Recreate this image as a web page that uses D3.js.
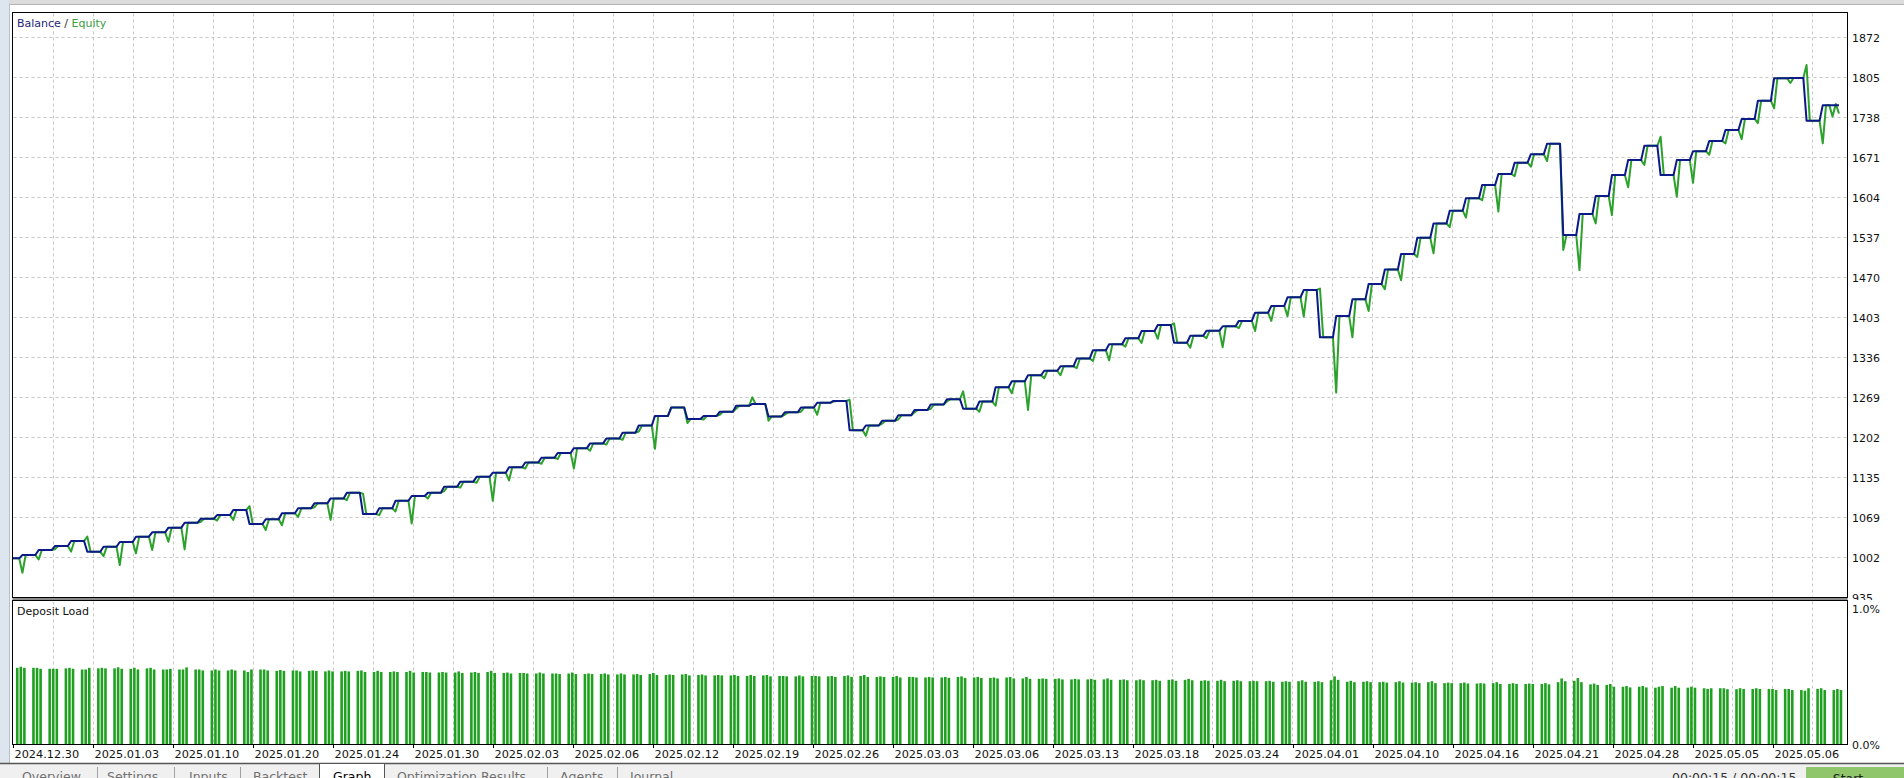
<!DOCTYPE html>
<html><head><meta charset="utf-8">
<script src="https://cdn.jsdelivr.net/npm/d3@7"></script>
<style>
html,body{margin:0;padding:0;background:#fff;overflow:hidden;}
svg{display:block;font-family:"DejaVu Sans",sans-serif;}
</style></head><body>
<svg id="c" width="1904" height="778"></svg>
<script>
// ---------------- data ----------------
const yTicks = [935,1002,1069,1135,1202,1269,1336,1403,1470,1537,1604,1671,1738,1805,1872];
const loadTickLabels = ["1.0%","0.0%"];
const loadTickValues = [1.0, 0.0];
const dateLabels = ["2024.12.30","2025.01.03","2025.01.10","2025.01.20","2025.01.24","2025.01.30","2025.02.03","2025.02.06","2025.02.12","2025.02.19","2025.02.26","2025.03.03","2025.03.06","2025.03.13","2025.03.18","2025.03.24","2025.04.01","2025.04.10","2025.04.16","2025.04.21","2025.04.28","2025.05.05","2025.05.06"];
const dateTickSlots = [0.1,24.75,49.4,74.06,98.7,123.4,148.0,172.7,197.3,222.0,246.7,271.3,296.0,320.6,345.3,369.9,394.6,419.3,443.9,468.6,493.2,517.9,542.6];

// balance level between consecutive closing steps (113 levels, 112 steps)
const balanceLevels = [999.7,1005.2,1013.6,1020.3,1028.7,1010.8,1019,1027,1035.9,1043.2,
1051,1059.3,1066,1072,1080.5,1057,1065,1075,1083.4,1091.7,
1100,1109.5,1073.8,1083.4,1096,1104,1109.5,1119.5,1128,1136,
1143,1152,1160,1168,1176,1184,1192,1200,1210,1222,
1238,1252,1233,1238,1245,1255,1258,1237,1244,1252,
1260,1263,1214,1222,1230,1239,1248,1257,1266,1250,
1262,1285.8,1296,1306,1313.6,1321,1334,1348,1358,1368,
1380,1390,1360.5,1372,1380.6,1388,1397,1410.7,1422,1436.5,
1448.7,1369.5,1405,1433,1458.7,1483,1509,1536,1560,1581.4,
1602,1624.3,1642.8,1661.7,1676,1693.5,1540.7,1575.8,1606,1641,
1666,1690,1641,1666,1681,1698,1716.4,1734.8,1765.5,1803,
1803.5,1732,1758];

// equity extreme (dip or spike) reached in each step
const equityExtremes = [975.6,998,1015,1011,1036,1003.5,988.5,1008,1013.6,1027.5,
1014.7,1061,1063,1064,1087,1047,1055,1069,1085,1064,
1097,1108,1072,1078,1058,1100,1112,1118,1126,1096,
1130,1150,1158,1166,1150,1180,1190,1198,1212,1183,
1252,1226,1232,1240,1250,1269,1230,1240,1245,1240,
1262,1265,1205,1225,1232,1244,1250,1262,1279,1245,
1255,1276,1248,1301,1306,1318,1330,1331,1354,1360,
1367,1393,1352,1368,1353,1385,1380,1397,1405,1404,
1451,1277,1369.5,1413.5,1450,1465,1504,1510,1554,1570,
1599,1580,1639,1655,1664.5,1515.6,1482,1560,1574,1620.5,
1658,1705,1605,1628,1675,1694,1701,1728,1752.7,1795,
1825,1694];

// equity after the last closing step (positions still open at end)
const equityTail = [1758,1739,1760,1744];

// deposit load in percent, three deals per step
const depositLoad = [
.552,.560,.552, .552,.552,.545, .545,.545,.545, .548,.552,.545, .540,.540,.552,
.548,.552,.548, .548,.556,.545, .545,.552,.540, .548,.552,.540, .540,.540,.545,
.540,.540,.555, .540,.540,.533, .533,.540,.533, .533,.540,.533, .533,.522,.540,
.540,.540,.533, .530,.536,.530, .533,.533,.526, .530,.533,.530, .526,.533,.526,
.526,.530,.526, .530,.533,.522, .522,.530,.522, .522,.526,.522, .522,.530,.518,
.522,.522,.518, .518,.522,.518, .518,.526,.515, .518,.522,.515, .522,.530,.515,
.515,.518,.511, .515,.515,.511, .511,.518,.511, .511,.511,.507, .511,.518,.507,
.507,.511,.507, .507,.511,.504, .504,.511,.504, .504,.507,.500, .507,.515,.500,
.500,.504,.500, .504,.507,.497, .500,.504,.497, .497,.500,.497, .497,.500,.493,
.493,.500,.493, .497,.500,.490, .493,.493,.490, .490,.497,.490, .493,.493,.490,
.490,.493,.486, .493,.497,.486, .493,.500,.486, .486,.490,.486, .486,.493,.482,
.486,.486,.482, .482,.486,.482, .482,.486,.479, .486,.490,.479, .482,.486,.479,
.479,.482,.475, .482,.486,.475, .475,.486,.472, .472,.475,.472, .472,.475,.468,
.468,.472,.468, .468,.472,.465, .468,.475,.465, .465,.468,.462, .462,.468,.462,
.462,.465,.458, .465,.468,.458, .465,.472,.462, .458,.462,.458, .458,.465,.455,
.458,.462,.455, .455,.458,.455, .455,.458,.451, .451,.455,.451, .455,.462,.451,
.451,.455,.448, .462,.490,.465, .451,.458,.448, .451,.455,.448, .448,.451,.445,
.448,.455,.445, .445,.448,.441, .448,.455,.441, .441,.445,.441, .441,.445,.438,
.438,.441,.438, .441,.448,.435, .435,.441,.435, .435,.438,.435, .435,.441,.432,
.448,.475,.455, .458,.478,.448, .432,.438,.428, .428,.435,.415, .415,.420,.410,
.415,.420,.410, .408,.415,.420, .408,.420,.408, .408,.415,.408, .404,.399,.404,
.404,.404,.397, .397,.404,.399, .399,.404,.399, .399,.399,.391, .399,.399,.391,
.391,.386,.404, .399,.404,.391, .391,.399,.391];

// ---------------- build series ----------------
const nSteps = balanceLevels.length - 1;
const pts = [];
for (let k = 0; k < nSteps; k++) {
  for (let p = 0; p < 5; p++) {
    const bal = p < 3 ? balanceLevels[k] : balanceLevels[k+1];
    const eq = p < 3 ? balanceLevels[k] : (p === 3 ? equityExtremes[k] : balanceLevels[k+1]);
    pts.push({i: k*5+p, bal, eq});
  }
}
equityTail.forEach((v, p) => pts.push({i: nSteps*5+p, bal: balanceLevels[nSteps], eq: v}));
// three deals per step, centred on the step
const bars = depositLoad.map((v, j) => ({i: Math.floor(j/3)*5 + 2.5 + ((j%3) - 1)*1.1, v}));
const lastSlot = pts[pts.length-1].i;

// ---------------- layout ----------------
const svg = d3.select("#c");
const L = 12.5, R = 1847.5, T1 = 12.5, B1 = 597.5, T2 = 600.5, B2 = 744.5;
const x = d3.scaleLinear().domain([0, lastSlot]).range([12.7, 1839]);
const y = d3.scaleLinear().domain([935, 1872]).range([597, 37]);
const yl = d3.scaleLinear().domain([0, 1]).range([744, 606]);

svg.append("rect").attr("width",1904).attr("height",778).attr("fill","#fff");
// top chrome
svg.append("rect").attr("x",0).attr("y",0).attr("width",1904).attr("height",4).attr("fill","#dcdcdc");
svg.append("line").attr("x1",0).attr("x2",1904).attr("y1",4.5).attr("y2",4.5).attr("stroke","#b4b4b4");
// left strip
svg.append("rect").attr("x",0).attr("y",0).attr("width",9).attr("height",764).attr("fill","#dde5ef");
svg.append("line").attr("x1",9.5).attr("x2",9.5).attr("y1",5).attr("y2",764).attr("stroke","#b8c2cf");
const clipL = svg.append("clipPath").attr("id","clipL");
clipL.append("rect").attr("x",0).attr("y",0).attr("width",9).attr("height",764);
svg.append("text").attr("clip-path","url(#clipL)")
  .attr("transform","translate(10,778) rotate(-90)")
  .attr("font-size",12).attr("fill","#3a4a5e").text("Strategy Tester");

// panels
svg.append("rect").attr("x",L).attr("y",T1).attr("width",R-L).attr("height",B1-T1)
  .attr("fill","#fff").attr("stroke","#000").attr("stroke-width",1);
svg.append("rect").attr("x",L).attr("y",T2).attr("width",R-L).attr("height",B2-T2)
  .attr("fill","#fff").attr("stroke","#000").attr("stroke-width",1);
svg.append("rect").attr("x",L).attr("y",598).attr("width",R-L).attr("height",2).attr("fill","#8a8a8a");

// grid
const g = svg.append("g");
const tx0 = x(dateTickSlots[0]), tstep = (x(dateTickSlots[1]) - x(dateTickSlots[0]))/2;
const gridX = d3.range(1, 46).map(j => Math.round(tx0 + j*tstep) + 0.5).filter(v => v < R-2);
gridX.forEach(gx => {
  g.append("line").attr("x1",gx).attr("x2",gx).attr("y1",T1+1).attr("y2",B1-1)
    .attr("stroke","#c6c6c6").attr("stroke-dasharray","3,3");
  g.append("line").attr("x1",gx).attr("x2",gx).attr("y1",T2+1).attr("y2",B2-1)
    .attr("stroke","#c6c6c6").attr("stroke-dasharray","3,3");
});
yTicks.slice(1).forEach(v => {
  const gy = Math.round(y(v)) + 0.5;
  g.append("line").attr("x1",L+1).attr("x2",R-1).attr("y1",gy).attr("y2",gy)
    .attr("stroke","#c6c6c6").attr("stroke-dasharray","3,3");
});

// deposit load bars
svg.append("g").selectAll("rect").data(bars).join("rect")
  .attr("x", d => x(d.i) - 1.3).attr("width", 2.6)
  .attr("y", d => yl(d.v)).attr("height", d => yl(0) - yl(d.v))
  .attr("fill", "#20a020");

// lines
const clipT = svg.append("clipPath").attr("id","clipT");
clipT.append("rect").attr("x",L+0.5).attr("y",T1+0.5).attr("width",R-L-1).attr("height",B1-T1-1);
const lg = svg.append("g").attr("clip-path","url(#clipT)");
lg.append("path").datum(pts)
  .attr("d", d3.line().x(d => x(d.i)).y(d => y(d.eq)))
  .attr("fill","none").attr("stroke","#2ca12c").attr("stroke-width",2).attr("stroke-linejoin","round");
lg.append("path").datum(pts)
  .attr("d", d3.line().x(d => x(d.i)).y(d => y(d.bal)))
  .attr("fill","none").attr("stroke","#0b1a86").attr("stroke-width",2).attr("stroke-linejoin","round");

// legends
const t1 = svg.append("text").attr("x",17).attr("y",27).attr("font-size",11);
t1.append("tspan").attr("fill","#1e1e78").text("Balance");
t1.append("tspan").attr("fill","#333").text(" / ");
t1.append("tspan").attr("fill","#3a9e3a").text("Equity");
svg.append("text").attr("x",17).attr("y",615).attr("font-size",11).attr("fill","#111").text("Deposit Load");

// y labels
const clipY = svg.append("clipPath").attr("id","clipY");
clipY.append("rect").attr("x",R).attr("y",0).attr("width",60).attr("height",600);
const ya = svg.append("g").attr("clip-path","url(#clipY)");
yTicks.forEach(v => {
  ya.append("text").attr("x",1852).attr("y",Math.round(y(v))+4.5).attr("font-size",11)
    .attr("fill","#111").text(v);
});
loadTickValues.forEach((v,i) => {
  svg.append("text").attr("x",1852).attr("y", v === 1 ? 613 : 749).attr("font-size",11)
    .attr("fill","#111").text(loadTickLabels[i]);
});

// x ticks and labels
dateTickSlots.forEach((s,i) => {
  const px = Math.round(x(s)) + 0.5;
  svg.append("line").attr("x1",px).attr("x2",px).attr("y1",B2).attr("y2",B2+3.5).attr("stroke","#000");
  svg.append("text").attr("x",px+1).attr("y",757.5).attr("font-size",11.3).attr("fill","#111").text(dateLabels[i]);
});

// bottom tab bar
svg.append("rect").attr("x",0).attr("y",764).attr("width",1904).attr("height",14).attr("fill","#f0f0f0");
svg.append("line").attr("x1",0).attr("x2",1904).attr("y1",763.5).attr("y2",763.5).attr("stroke","#555").attr("stroke-width",1.5);
svg.append("rect").attr("x",319.5).attr("y",763.5).attr("width",65).attr("height",20).attr("fill","#fff").attr("stroke","#555");
const tabs = [["Overview",22],["Settings",107],["Inputs",189],["Backtest",253],["Graph",333],["Optimization Results",397],["Agents",560],["Journal",630]];
tabs.forEach(([t,px]) => svg.append("text").attr("x",px).attr("y",781).attr("font-size",12.5)
  .attr("fill", t === "Graph" ? "#000" : "#707070").text(t));
[97,174,240,547,617].forEach(px => svg.append("line").attr("x1",px+0.5).attr("x2",px+0.5)
  .attr("y1",767).attr("y2",778).attr("stroke","#a0a0a0"));
svg.append("text").attr("x",1672).attr("y",782).attr("font-size",12.5).attr("fill","#333").text("00:00:15 / 00:00:15");
svg.append("rect").attr("x",1806).attr("y",767).attr("width",98).attr("height",12).attr("fill","#8fc66b");
svg.append("text").attr("x",1848).attr("y",783).attr("font-size",12.5).attr("text-anchor","middle").attr("fill","#222").text("Start");
</script></body></html>
